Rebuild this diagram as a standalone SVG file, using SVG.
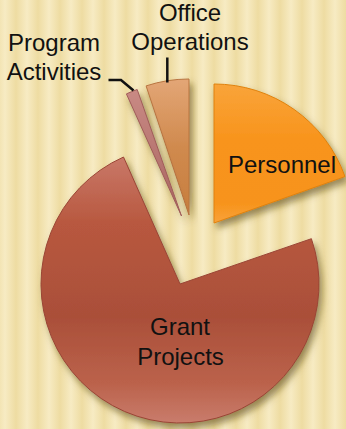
<svg xmlns="http://www.w3.org/2000/svg" width="346" height="429" viewBox="0 0 346 429">
<defs>
<linearGradient id="stripe" x1="0" y1="0" x2="1" y2="0">
<stop offset="0" stop-color="#EEDCA2"/>
<stop offset="0.5" stop-color="#F7EBC3"/>
<stop offset="1" stop-color="#EEDCA2"/>
</linearGradient>
<pattern id="bg" x="-6" y="0" width="22" height="429" patternUnits="userSpaceOnUse">
<rect width="22" height="429" fill="url(#stripe)"/>
</pattern>
<linearGradient id="gGrant" x1="0" y1="0" x2="0" y2="1">
<stop offset="0" stop-color="#C97868"/>
<stop offset="0.25" stop-color="#B8583F"/>
<stop offset="0.6" stop-color="#AA4F39"/>
<stop offset="0.85" stop-color="#BB624B"/>
<stop offset="1" stop-color="#C97C6C"/>
</linearGradient>
<linearGradient id="gPers" x1="0" y1="0" x2="0" y2="1">
<stop offset="0" stop-color="#F9A43A"/>
<stop offset="0.4" stop-color="#F8941C"/>
<stop offset="0.85" stop-color="#F7931A"/>
<stop offset="1" stop-color="#F9A23A"/>
</linearGradient>
<linearGradient id="gOffice" x1="0" y1="0" x2="0" y2="1">
<stop offset="0" stop-color="#E3A676"/>
<stop offset="0.5" stop-color="#D08A4E"/>
<stop offset="1" stop-color="#C77E3E"/>
</linearGradient>
<linearGradient id="gProg" x1="0" y1="0" x2="0" y2="1">
<stop offset="0" stop-color="#C98A84"/>
<stop offset="1" stop-color="#A86460"/>
</linearGradient>
<filter id="shadow" x="-20%" y="-20%" width="140%" height="140%">
<feDropShadow dx="3" dy="5" stdDeviation="3.5" flood-color="#5A4A12" flood-opacity="0.6"/>
</filter>
<style>
.lbl{font-family:"Liberation Sans",Arial,sans-serif;font-size:24px;fill:#111111;text-anchor:middle}
.lead{fill:none;stroke:#111111;stroke-width:2.5}
</style>
</defs>
<rect id="background" width="346" height="429" fill="url(#bg)"/>
<g id="slice-grant-projects">
<path d="M180,284 L311.4,238.7 A139,139 0 1 1 123.5,157 Z" fill="url(#gGrant)" stroke="#9A4535" stroke-width="1" filter="url(#shadow)"/>
<text class="lbl" x="180" y="335">Grant</text>
<text class="lbl" x="180.5" y="365">Projects</text>
</g>
<g id="slice-personnel">
<path d="M214,223 L214,84 A139,139 0 0 1 345,176.6 Z" fill="url(#gPers)" stroke="#E0820F" stroke-width="1" filter="url(#shadow)"/>
<text class="lbl" x="282" y="173">Personnel</text>
</g>
<g id="slice-office-operations">
<path d="M189,215 L146.1,85.9 A136,136 0 0 1 189,79 Z" fill="url(#gOffice)" stroke="#B87440" stroke-width="1" filter="url(#shadow)"/>
<text class="lbl" x="190" y="21">Office</text>
<text class="lbl" x="190" y="50">Operations</text>
</g>
<g id="slice-program-activities">
<path d="M181.5,216 L126.4,93.9 A134,134 0 0 1 137.2,89.5 Z" fill="url(#gProg)" stroke="#A05C58" stroke-width="1" filter="url(#shadow)"/>
<text class="lbl" x="54" y="51">Program</text>
<text class="lbl" x="54" y="80">Activities</text>
</g>
<g id="connectors">
<path class="lead" d="M167.3,57.5 L167.3,82.5"/>
<path class="lead" d="M108.5,80 L121,80 L133.5,90.5"/>
</g>
</svg>
